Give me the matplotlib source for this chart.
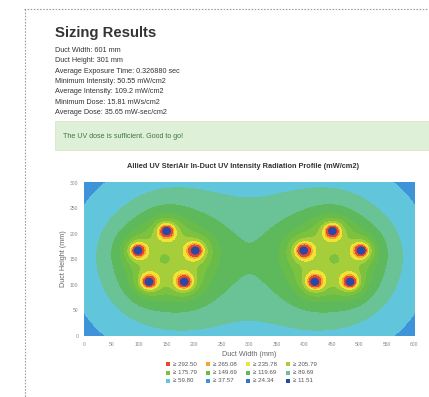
import numpy as np
import matplotlib
matplotlib.use("Agg")
import matplotlib.pyplot as plt
from matplotlib.lines import Line2D
from matplotlib.patches import Circle, Rectangle

plt.rcParams['font.family'] = ['Liberation Sans', 'DejaVu Sans']

# ---- sizing summary -------------------------------------------------------
duct_width_mm = 601
duct_height_mm = 301
min_intensity = 50.55

page_title = "Sizing Results"
summary_lines = [
    "Duct Width: 601 mm",
    "Duct Height: 301 mm",
    "Average Exposure Time: 0.326880 sec",
    "Minimum Intensity: 50.55 mW/cm2",
    "Average Intensity: 109.2 mW/cm2",
    "Minimum Dose: 15.81 mWs/cm2",
    "Average Dose: 35.65 mW-sec/cm2",
]
status_message = "The UV dose is sufficient. Good to go!"
chart_title = "Allied UV SteriAir In-Duct UV Intensity Radiation Profile (mW/cm2)"
x_label = "Duct Width (mm)"
y_label = "Duct Height (mm)"

# ---- lamp layout (two pentagon clusters) ----------------------------------
lamp_x = [150, 98, 118, 182, 202, 451, 399, 419, 483, 503]
lamp_y = [205, 167, 106, 106, 167, 205, 167, 106, 106, 167]
lamp_radius_mm = 8.0

# ---- intensity bands, highest first ---------------------------------------
band_levels = [292.50, 265.08, 235.78, 205.79, 175.79, 149.69,
               119.69, 89.69, 59.80, 37.57, 24.34, 11.51]
band_colors = ['#e64a2e', '#f5a431', '#f1e233', '#a6ce3a', '#7dc23f', '#68bc4a',
               '#5db95c', '#6ac396', '#61c5db', '#3f93d8', '#3372c9', '#2a48a4']

x_ticks = list(range(0, 601, 50))
y_ticks = list(range(0, 301, 50))

# radiation model: softened 1/d falloff from each lamp
LAMP_GAIN = 2100.0
FALLOFF = 1.0
CORE_MM = 6.0

W_PX, H_PX = 429, 397


def fx(px):
    return px / W_PX


def fy(py):
    return 1 - py / H_PX


fig = plt.figure(figsize=(W_PX / 100, H_PX / 100), dpi=100)
fig.patch.set_facecolor('white')

# dotted page frame
frame_kw = dict(color='#9a9a9a', lw=0.8, ls=(0, (1.4, 1.4)), transform=fig.transFigure)
fig.add_artist(Line2D([fx(24), fx(429)], [fy(9), fy(9)], **frame_kw))
fig.add_artist(Line2D([fx(25), fx(25)], [fy(9), fy(397)], **frame_kw))

fig.text(fx(55), fy(37), page_title, fontsize=10.7, fontweight='bold',
         color='#333333', ha='left', va='baseline')
for i, line in enumerate(summary_lines):
    fig.text(fx(55), fy(50.5 + i * 10.35), line, fontsize=5.2,
             color='#333333', ha='left', va='center')

fig.add_artist(Rectangle((fx(55), fy(150)), fx(432) - fx(55), fy(121) - fy(150),
                         transform=fig.transFigure, fc='#dff0d8', ec='#d6e9c6', lw=0.6))
fig.text(fx(63), fy(137), status_message, fontsize=5.1, color='#3c763d',
         ha='left', va='center')

fig.text(fx(243), fy(166), chart_title, fontsize=5.3, fontweight='bold',
         color='#333333', ha='center', va='center')

# ---- intensity field ------------------------------------------------------
gx = np.linspace(0, duct_width_mm, 603)
gy = np.linspace(0, duct_height_mm, 303)
X, Y = np.meshgrid(gx, gy)
lx = np.asarray(lamp_x, float)[:, None, None]
ly = np.asarray(lamp_y, float)[:, None, None]
dist = np.sqrt((X - lx) ** 2 + (Y - ly) ** 2)
S = ((dist ** 2 + CORE_MM ** 2) ** (-FALLOFF / 2)).sum(axis=0)
outside = (dist > lamp_radius_mm).all(axis=0)
# shift so the weakest point in the duct sits at the reported minimum
offset = LAMP_GAIN * S[outside].min() - min_intensity
field = LAMP_GAIN * S - offset

ax = fig.add_axes([fx(84), fy(336), (415 - 84) / W_PX, (336 - 182) / H_PX])
levels_asc = sorted(band_levels)
colors_asc = [c for _, c in sorted(zip(band_levels, band_colors))]
ax.contourf(X, Y, field, levels=levels_asc + [field.max() + 1], colors=colors_asc)
for cx, cy in zip(lamp_x, lamp_y):
    ax.add_patch(Circle((cx, cy), lamp_radius_mm, fc=band_colors[-1], ec='none', zorder=3))

ax.set_xlim(0, duct_width_mm)
ax.set_ylim(0, duct_height_mm)
ax.set_xticks(x_ticks)
ax.set_yticks(y_ticks)
ax.tick_params(length=0, labelsize=3.6, labelcolor='#888888', pad=4)
for sp in ax.spines.values():
    sp.set_visible(False)
ax.set_xlabel(x_label, fontsize=5.2, color='#666666', labelpad=3)
ax.set_ylabel(y_label, fontsize=5.2, color='#666666', labelpad=2)

# ---- legend (4 columns, highest band first) -------------------------------
col_x = [168, 208, 248, 288]
for i, (lv, col) in enumerate(zip(band_levels, band_colors)):
    r, c = divmod(i, 4)
    px, py = col_x[c], 364.3 + r * 8.35
    fig.add_artist(Rectangle((fx(px - 2), fy(py + 2)), 4 / W_PX, 4 / H_PX,
                             transform=fig.transFigure, fc=col, ec='none'))
    fig.text(fx(px + 5), fy(py), f"\u2265 {lv:.2f}", fontsize=4.4,
             color='#555555', ha='left', va='center')

fig.savefig('out.png', dpi=100)
